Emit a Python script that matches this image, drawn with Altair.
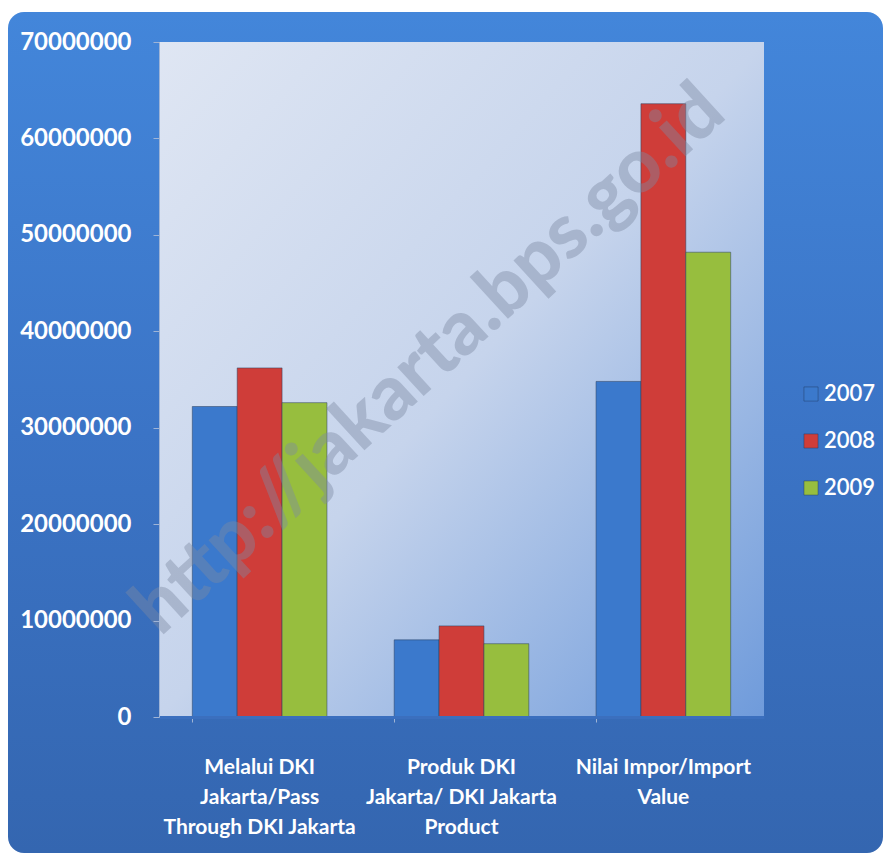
import altair as alt
import pandas as pd

categories = [
    "Melalui DKI|Jakarta/Pass|Through DKI Jakarta",
    "Produk DKI|Jakarta/ DKI Jakarta|Product",
    "Nilai Impor/Import|Value",
]
years = ["2007", "2008", "2009"]
v2007 = [32200000, 8000000, 34800000]
v2008 = [36200000, 9450000, 63600000]
v2009 = [32600000, 7600000, 48200000]
y_ticks = [0, 10000000, 20000000, 30000000, 40000000, 50000000, 60000000, 70000000]
watermark = ["http://jakarta.bps.go.id"]

rows = []
for yr, vals in zip(years, [v2007, v2008, v2009]):
    for c, v in zip(categories, vals):
        rows.append({"category": c, "year": yr, "value": v})
df = pd.DataFrame(rows)

W, H = 605, 675
PL, PT, PR, PB = 151, 34, 119, 136

outer = alt.Chart(pd.DataFrame({"a": [0]})).mark_rect(
    cornerRadius=16,
    color=alt.Gradient(
        gradient="linear",
        stops=[alt.GradientStop(color="#4386da", offset=0),
               alt.GradientStop(color="#3b74c6", offset=0.5),
               alt.GradientStop(color="#3466b0", offset=1)],
        x1=0, x2=0, y1=0, y2=1,
    ),
).encode(
    x=alt.value(-PL), x2=alt.value(W + PR),
    y=alt.value(-PT + 4), y2=alt.value(H + PB),
)

inner = alt.Chart(pd.DataFrame({"a": [0]})).mark_rect(
    color=alt.Gradient(
        gradient="linear",
        stops=[alt.GradientStop(color="#dfe6f3", offset=0),
               alt.GradientStop(color="#c6d4ec", offset=0.5),
               alt.GradientStop(color="#6f9bdb", offset=1)],
        x1=0, x2=1, y1=0, y2=1,
    ),
).encode(x=alt.value(0), x2=alt.value(W), y=alt.value(0), y2=alt.value(H))

bars = alt.Chart(df).mark_bar(stroke="#2a3d5c", strokeOpacity=0.5, strokeWidth=1).encode(
    x=alt.X("category:N", sort=categories, title=None,
            scale=alt.Scale(paddingInner=0.333, paddingOuter=0.165),
            axis=alt.Axis(labelExpr="split(datum.label, '|')", labelAngle=0,
                          labelColor="white", labelFont="Lato", labelFontSize=21,
                          labelFontWeight="bold", labelLineHeight=30,
                          labelPadding=34, bandPosition=0, tickSize=5,
                          tickColor="#9fb4d6", domainColor="#3b6fbe", domainWidth=3,
                          zindex=1, labelLimit=300)),
    xOffset=alt.XOffset("year:N", sort=years),
    y=alt.Y("value:Q", title=None,
            scale=alt.Scale(domain=[0, 70000000], nice=False),
            axis=alt.Axis(values=y_ticks, format="d", labelColor="white",
                          labelFont="Lato", labelFontSize=24, labelFontWeight="bold",
                          labelPadding=22, tickSize=6, tickColor="#9fb4d6",
                          domainColor="#9fb4d6", grid=False, zindex=1)),
    color=alt.Color("year:N", sort=years, title=None,
                    scale=alt.Scale(domain=years, range=["#3b79cc", "#cf3d39", "#97be3e"]),
                    legend=alt.Legend(orient="none", legendX=W + 36, legendY=341,
                                      symbolType="square", symbolSize=200,
                                      symbolStrokeColor="#24406a", symbolStrokeWidth=0.5,
                                      labelColor="white", labelFont="Lato",
                                      labelFontSize=22, labelFontWeight=600,
                                      rowPadding=25, labelOffset=2, zindex=1)),
)

wm = alt.Chart(pd.DataFrame({"t": watermark})).mark_text(
    angle=317.5, fontSize=76, font="Lato", fontWeight=900,
    color="#7d8aa3", opacity=0.42,
).encode(text="t:N", x=alt.value(270), y=alt.value(318))

chart = alt.layer(outer, inner, bars, wm).properties(
    width=W, height=H,
    padding={"left": PL, "top": PT, "right": PR, "bottom": PB},
    autosize=alt.AutoSizeParams(type="none"),
    background="white",
).configure_view(stroke=None)

chart.save("out.html", embed_options={"renderer": "svg", "actions": False})
